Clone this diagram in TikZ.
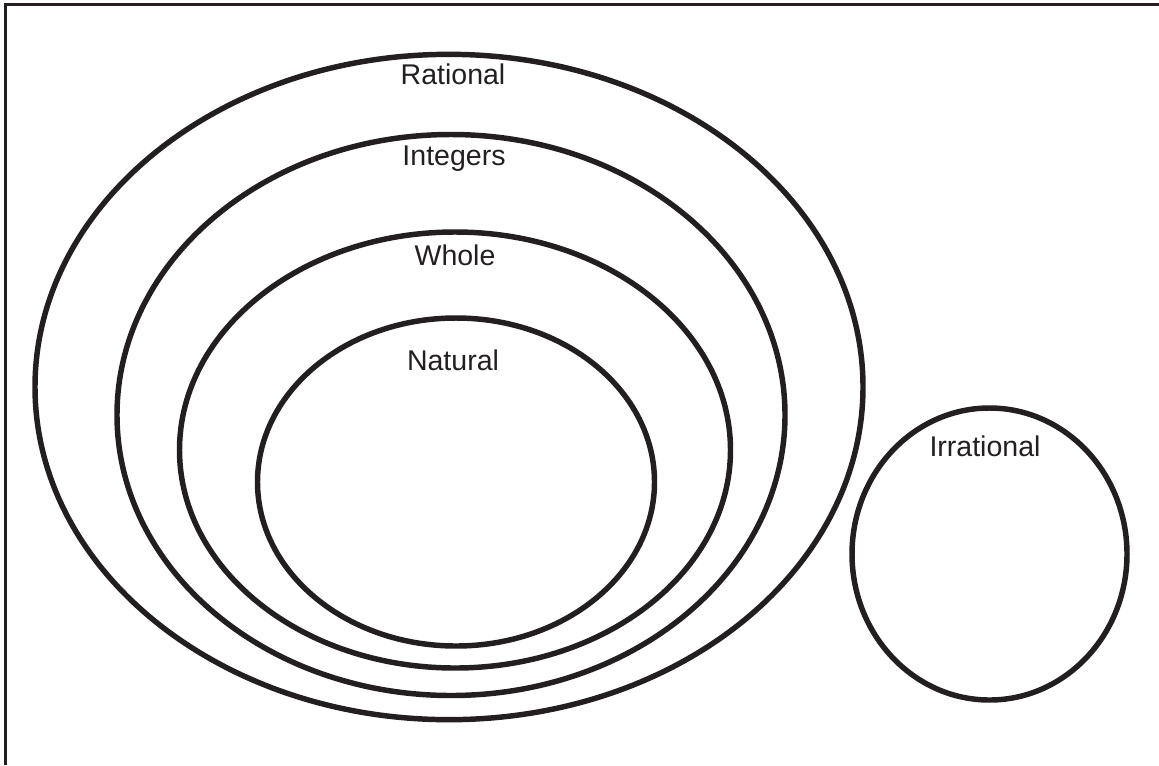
\documentclass[tikz,border=0pt]{standalone}
\usepackage{fontspec}
\setmainfont{Liberation Sans}
\usetikzlibrary{shapes.geometric, positioning}
\definecolor{inkgray}{RGB}{35, 31, 32}

\begin{document}
\begin{tikzpicture}[x=0.75pt, y=-0.75pt,
  numset/.style={draw=inkgray, ellipse, line width=4.1pt, inner sep=0pt},
  setname/.style={font=\fontsize{21.4}{24}\selectfont, text=inkgray, anchor=base, inner sep=0pt}]
\useasboundingbox (0,0) rectangle (1159,765);

% frame (top and left edges only)
\coordinate (fbl) at (5.5,765);
\coordinate (ftl) at (5.5,4.5);
\coordinate (ftr) at (1159,4.5);
\draw[inkgray, line width=2.2pt] (fbl) -- (ftl) -- (ftr);

% nested sets
\node[numset, minimum width=621pt, minimum height=499pt] (rational) at (449,387) {};
\node[numset, minimum width=501pt, minimum height=420.75pt] (integers) at (451,415) {};
\node[numset, minimum width=413.25pt, minimum height=327pt] (whole) at (455,450) {};
\node[numset, minimum width=297.75pt, minimum height=246pt] (natural) at (456,482) {};
\node[numset, minimum width=206.25pt, minimum height=219pt] (irrational) at (989.5,554) {};

% labels
\node[setname] (ratlbl) at (453,84) {Rational};
\node[setname] (intlbl) at (454,165) {Integers};
\node[setname] (whllbl) at (455,265) {Whole};
\node[setname] (natlbl) at (453,370) {Natural};
\node[setname] (irrlbl) at (985,456) {Irrational};
\end{tikzpicture}
\end{document}
